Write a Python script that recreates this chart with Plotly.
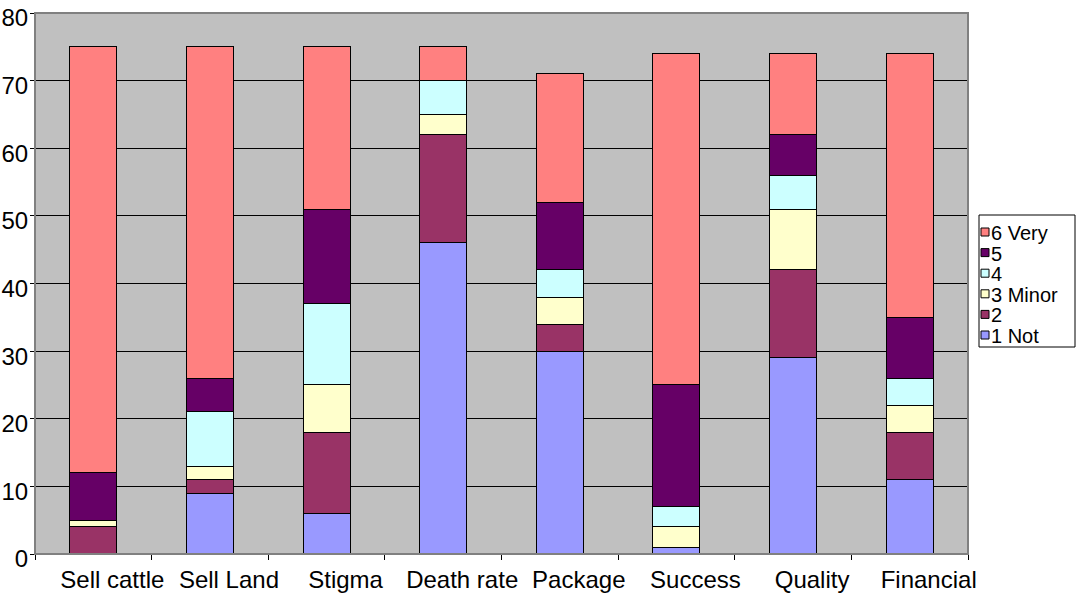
import plotly.graph_objects as go

categories = ["Sell cattle", "Sell Land", "Stigma", "Death rate", "Package", "Success", "Quality", "Financial"]

not_1 = [0, 9, 6, 46, 30, 1, 29, 11]
two = [4, 2, 12, 16, 4, 0, 13, 7]
minor_3 = [1, 2, 7, 3, 4, 3, 9, 4]
four = [0, 8, 12, 5, 4, 3, 5, 4]
five = [7, 5, 14, 0, 10, 18, 6, 9]
very_6 = [63, 49, 24, 5, 19, 49, 12, 39]

series = [
    ("1 Not", not_1, "#9999FF"),
    ("2", two, "#993366"),
    ("3 Minor", minor_3, "#FFFFCC"),
    ("4", four, "#CCFFFF"),
    ("5", five, "#660066"),
    ("6 Very", very_6, "#FF8080"),
]

font_family = "Arial, Liberation Sans, sans-serif"

W, H = 1077, 594
L, R, T, B = 35, 968, 13, 554  # plot area in pixels


def px_x(px):
    return (px - L) / (R - L)


def px_y(py):
    return (B - py) / (B - T)


fig = go.Figure()
for name, vals, color in series:
    fig.add_trace(go.Bar(
        x=categories, y=vals, name=name,
        marker=dict(color=color, line=dict(color="black", width=1)),
        showlegend=False,
    ))

shapes = [
    # plot-area frame
    dict(type="rect", xref="paper", yref="paper", x0=0, x1=1, y0=0, y1=1,
         line=dict(color="#808080", width=2), layer="above"),
    # legend box
    dict(type="rect", xref="paper", yref="paper",
         x0=px_x(979), x1=px_x(1075), y0=px_y(347), y1=px_y(215),
         line=dict(color="black", width=1), fillcolor="white", layer="above"),
]
annotations = []

# legend entries, top to bottom from "6 Very" down to "1 Not"
row_top = 232
row_step = 20.6
for i, (name, vals, color) in enumerate(reversed(series)):
    cy = row_top + i * row_step
    shapes.append(dict(
        type="rect", xref="paper", yref="paper",
        x0=px_x(981), x1=px_x(989), y0=px_y(cy + 4), y1=px_y(cy - 4),
        line=dict(color="black", width=1), fillcolor=color, layer="above",
    ))
    annotations.append(dict(
        xref="paper", yref="paper", x=px_x(990), y=px_y(cy + 1),
        text=name, showarrow=False, xanchor="left", yanchor="middle",
        font=dict(family=font_family, size=20, color="black"),
        borderpad=0,
    ))

fig.update_layout(
    barmode="stack",
    bargap=0.597,
    width=W, height=H,
    margin=dict(l=L, r=W - R, t=T, b=H - B),
    paper_bgcolor="white",
    plot_bgcolor="#C0C0C0",
    font=dict(family=font_family, color="black", size=23),
    showlegend=False,
    shapes=shapes,
    annotations=annotations,
)

fig.update_xaxes(
    type="category",
    tickson="boundaries",
    ticks="outside", ticklen=5, tickcolor="black",
    showgrid=False,
    showline=True, linecolor="black", linewidth=1,
    tickfont=dict(size=24),
    tickangle=0,
    ticklabelshift=19,
    ticklabelstandoff=4,
    automargin=False,
)
fig.update_yaxes(
    range=[0, 80], dtick=10,
    ticks="outside", ticklen=4, tickcolor="black",
    showgrid=True, gridcolor="black", gridwidth=1,
    zeroline=False,
    showline=True, linecolor="black", linewidth=1,
    tickfont=dict(size=24),
    ticklabelshift=5,
    ticklabelstandoff=-3,
    automargin=False,
)

fig.write_html("out.html")
